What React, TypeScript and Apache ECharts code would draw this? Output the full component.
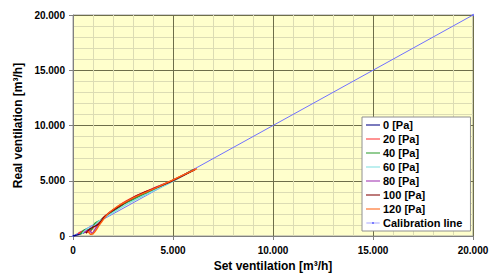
import React, { useEffect, useRef } from "react";
import * as echarts from "echarts";

const seriesNames = ["0 [Pa]", "20 [Pa]", "40 [Pa]", "60 [Pa]", "80 [Pa]", "100 [Pa]", "120 [Pa]"];
const seriesColors = ["#000080", "#FF3030", "#2E9E2E", "#80E0E0", "#A030B0", "#800000", "#FF6010"];

const pa0 = [[0, 0], [300, 150], [600, 350], [900, 700], [1200, 1150], [1500, 1600], [1900, 2150], [2500, 2900], [3000, 3400], [3500, 3800], [4000, 4200], [5000, 5000], [6000, 5950]];
const pa20 = [[250, 200], [550, 450], [800, 350], [1000, 750], [1300, 1250], [1600, 1800], [2000, 2350], [2500, 3000], [3000, 3500], [3500, 3900], [4000, 4300], [5000, 5050], [6100, 6050]];
const pa40 = [[350, 150], [650, 600], [900, 550], [1100, 1150], [1400, 1450], [1700, 1850], [2100, 2350], [2600, 2950], [3000, 3300], [3500, 3750], [4000, 4150], [5000, 4980], [6000, 6000]];
const pa60 = [[450, 200], [750, 700], [1000, 800], [1300, 1350], [1600, 1700], [1900, 2000], [2300, 2450], [2800, 3000], [3200, 3350], [3700, 3800], [4200, 4250], [5000, 4950], [6000, 5950]];
const pa80 = [[550, 300], [800, 550], [950, 250], [1150, 750], [1400, 1300], [1700, 1950], [2100, 2450], [2600, 3050], [3100, 3550], [3600, 3950], [4100, 4350], [5000, 5050], [6100, 6050]];
const pa100 = [[650, 250], [850, 650], [1050, 850], [1300, 1100], [1550, 1700], [1900, 2200], [2400, 2800], [3000, 3450], [3500, 3900], [4000, 4250], [5000, 5020], [6100, 6000]];
const pa120 = [[750, 450], [900, 150], [1050, 300], [1250, 800], [1500, 1450], [1800, 2100], [2200, 2650], [2700, 3150], [3200, 3600], [3700, 4000], [4200, 4400], [5000, 5080], [6200, 6100]];
const calibration = [[0, 0], [20000, 20000]];

const seriesData = [pa0, pa20, pa40, pa60, pa80, pa100, pa120];

const fmt = (v: number) => (v === 0 ? "0" : (v / 1000).toFixed(3));

const lineIcon = "path://M0,0 L20,0 L20,1.5 L0,1.5 Z";
const calIcon = "path://M0,4 L20,4 L20,5 L0,5 Z M9,3 L11,3 L11,6 L9,6 Z";

export default function App() {
  const ref = useRef<HTMLDivElement>(null);
  useEffect(() => {
    if (!ref.current) return;
    const chart = echarts.init(ref.current, null, { renderer: "svg" });
    const axisCommon = {
      type: "value" as const,
      min: 0,
      max: 20000,
      interval: 5000,
      nameLocation: "middle" as const,
      nameTextStyle: { fontFamily: "Liberation Sans, Arial", fontWeight: "bold", fontSize: 12, color: "#000" },
      axisLine: { show: true, lineStyle: { color: "#808080", width: 1 } },
      axisTick: { show: true, length: 4, lineStyle: { color: "#808080" } },
      axisLabel: { formatter: fmt, fontFamily: "Liberation Sans, Arial", fontWeight: "bold", fontSize: 10, color: "#000" },
      splitLine: { show: true, lineStyle: { color: "#6E6E4A", width: 1 } },
      minorTick: { show: false, splitNumber: 5 },
      minorSplitLine: { show: true, lineStyle: { color: "#DCDCB4", width: 1 } },
    };
    chart.setOption({
      animation: false,
      grid: { left: 73, right: 24, top: 15, bottom: 37, show: true, backgroundColor: "#FFFFCC", borderColor: "#A0A0A0", borderWidth: 1 },
      xAxis: { ...axisCommon, name: "Set ventilation [m³/h]", nameGap: 24, axisLabel: { ...axisCommon.axisLabel, margin: 9 } },
      yAxis: { ...axisCommon, name: "Real ventilation [m³/h]", nameGap: 36, axisLabel: { ...axisCommon.axisLabel, margin: 8 } },
      legend: {
        orient: "vertical",
        left: 362,
        top: 117,
        width: 100,
        backgroundColor: "#FFFFFF",
        borderColor: "#909090",
        borderWidth: 1,
        padding: [1, 8, 1, 4],
        itemGap: 0,
        itemWidth: 14,
        itemHeight: 2,
        textStyle: { fontFamily: "Liberation Sans, Arial", fontWeight: "bold", fontSize: 11, color: "#000", lineHeight: 14, padding: [0, 0, 0, -2] },
        data: [
          ...seriesNames.map((n) => ({ name: n, icon: lineIcon })),
          { name: "Calibration line", icon: calIcon, itemStyle: { color: "#5050FF" } },
        ],
      },
      series: [
        {
          name: "Calibration line",
          type: "line",
          data: calibration,
          showSymbol: true,
          symbol: "circle",
          symbolSize: 2,
          lineStyle: { color: "#7070FF", width: 1 },
          itemStyle: { color: "#7070FF" },
          z: 1,
        },
        ...seriesData.map((d, i) => ({
          name: seriesNames[i],
          type: "line",
          data: d,
          smooth: 0.3,
          showSymbol: false,
          lineStyle: { color: seriesColors[i], width: 1.4 },
          itemStyle: { color: seriesColors[i] },
          z: 2 + i,
        })),
      ],
    });
    return () => chart.dispose();
  }, []);
  return <div ref={ref} style={{ width: 497, height: 277, position: "absolute", left: 0, top: 0 }} />;
}
